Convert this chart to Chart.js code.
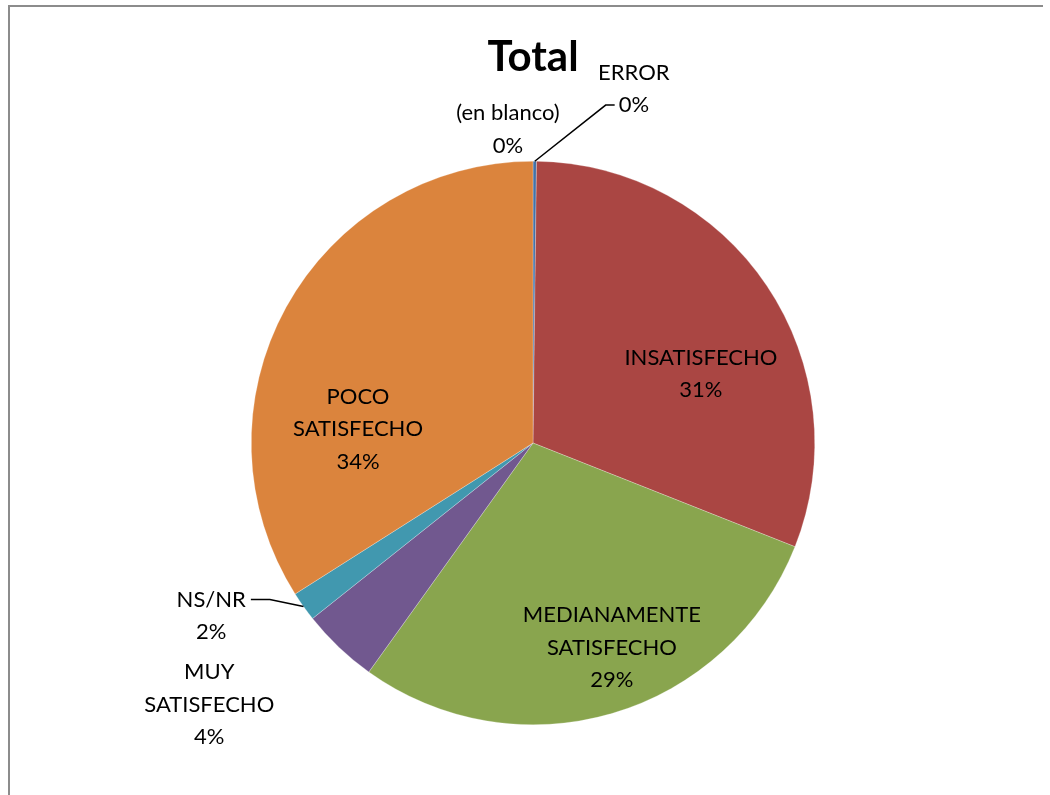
<!DOCTYPE html>
<html>
<head>
<meta charset="utf-8">
<script src="https://cdn.jsdelivr.net/npm/chart.js@4"></script>
<style>
html, body { margin: 0; padding: 0; background: #fff; }
#marco { position: absolute; left: 8px; top: 5px; width: 1033px; height: 790px;
         border-left: 2px solid #8c8c8c; border-top: 2px solid #8c8c8c; }
#caja { position: absolute; left: 0; top: 0; width: 1050px; height: 795px; }
</style>
</head>
<body>
<div id="marco"></div>
<div id="caja"><canvas id="grafico"></canvas></div>
<script>
// datos
const categorias = ['ERROR', 'INSATISFECHO', 'MEDIANAMENTE SATISFECHO', 'MUY SATISFECHO', 'NS/NR', 'POCO SATISFECHO', '(en blanco)'];
const valores = [0.2, 30.8, 28.9, 4.4, 1.7, 34.0, 0];
const colores = ['#4572A7', '#AA4643', '#89A54E', '#71588F', '#4198AF', '#DB843D', '#93A9CF'];

// texto de cada etiqueta y su posicion (en radios, desde el centro)
const lineas = [['ERROR'], ['INSATISFECHO'], ['MEDIANAMENTE', 'SATISFECHO'], ['MUY', 'SATISFECHO'], ['NS/NR'], ['POCO', 'SATISFECHO'], ['(en blanco)']];
const posicion = [[0.358, -1.257], [0.596, -0.245], [0.280, 0.727], [-1.149, 0.929], [-1.142, 0.613], [-0.621, -0.050], [-0.089, -1.113]];
// guias: indice -> {linea, lado, codo}
const guias = { 0: { linea: 1, lado: 'izq', codo: 9 }, 4: { linea: 0, lado: 'der', codo: 19 } };

const fuente = 'Lato, "Open Sans", sans-serif';
const altoLinea = 32.5;

const etiquetas = {
    id: 'etiquetas',
    afterDatasetsDraw(chart) {
        const ctx = chart.ctx;
        const arcos = chart.getDatasetMeta(0).data;
        const total = valores.reduce((a, b) => a + b, 0);
        ctx.save();
        ctx.fillStyle = '#000';
        ctx.textAlign = 'center';
        ctx.textBaseline = 'middle';
        ctx.font = '22px ' + fuente;
        arcos.forEach((arco, i) => {
            const R = arco.outerRadius;
            const cx = arco.x + posicion[i][0] * R;
            const cy = arco.y + posicion[i][1] * R;
            const txt = lineas[i].concat([Math.round(valores[i] / total * 100) + '%']);
            const y0 = cy - (txt.length - 1) * altoLinea / 2;
            txt.forEach((t, k) => ctx.fillText(t, cx, y0 + k * altoLinea));

            const g = guias[i];
            if (g) {
                const w = ctx.measureText(txt[g.linea]).width;
                const ly = y0 + g.linea * altoLinea;
                const ex = g.lado === 'izq' ? cx - w / 2 - 4 : cx + w / 2 + 5;
                const kx = g.lado === 'izq' ? ex - g.codo : ex + g.codo;
                const m = (arco.startAngle + arco.endAngle) / 2;
                ctx.beginPath();
                ctx.strokeStyle = '#000';
                ctx.lineWidth = 1.5;
                ctx.moveTo(arco.x + Math.cos(m) * R, arco.y + Math.sin(m) * R);
                ctx.lineTo(kx, ly);
                ctx.lineTo(ex, ly);
                ctx.stroke();
            }
        });
        // titulo
        ctx.font = 'bold 42px ' + fuente;
        ctx.fillText('Total', chart.width / 2 + 8, 57);
        ctx.restore();
    }
};

new Chart(document.getElementById('grafico'), {
    type: 'pie',
    data: {
        labels: categorias,
        datasets: [{
            data: valores,
            backgroundColor: colores,
            borderColor: 'rgba(255,255,255,0.5)',
            borderWidth: 0.5
        }]
    },
    options: {
        responsive: true,
        maintainAspectRatio: false,
        animation: false,
        layout: { padding: { top: 161, bottom: 70, left: 251, right: 235 } },
        plugins: {
            legend: { display: false },
            tooltip: { enabled: false }
        }
    },
    plugins: [etiquetas]
});
</script>
</body>
</html>
